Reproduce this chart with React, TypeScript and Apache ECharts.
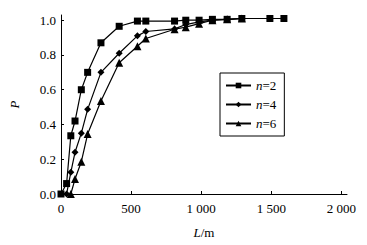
import React, { useEffect, useRef } from "react";
import * as echarts from "echarts";

const seriesNames = ["n=2", "n=4", "n=6"];
const symbols = ["rect", "diamond", "triangle"];

const n2L = [0, 40, 70, 100, 145, 190, 285, 415, 545, 605, 810, 890, 985, 1080, 1185, 1290, 1490, 1590];
const n2P = [0, 0.06, 0.335, 0.42, 0.6, 0.7, 0.87, 0.965, 0.995, 0.995, 0.995, 1.0, 1.0, 1.005, 1.005, 1.01, 1.01, 1.01];

const n4L = [40, 70, 100, 145, 190, 285, 415, 545, 605, 810, 890, 985, 1080, 1185, 1290];
const n4P = [0, 0.125, 0.24, 0.35, 0.487, 0.7, 0.81, 0.91, 0.935, 0.95, 0.975, 0.99, 1.0, 1.005, 1.01];

const n6L = [70, 100, 145, 190, 285, 415, 545, 605, 810, 890, 985, 1080, 1185, 1290];
const n6P = [0, 0.086, 0.186, 0.345, 0.535, 0.755, 0.85, 0.895, 0.948, 0.96, 0.98, 1.0, 1.005, 1.01];

const xTicks = [0, 500, 1000, 1500, 2000];
const yTicks = [0, 0.2, 0.4, 0.6, 0.8, 1.0];

const FONT = "Liberation Serif";
const FS = 13;

export default function App() {
  const ref = useRef<HTMLDivElement>(null);
  useEffect(() => {
    const chart = echarts.init(ref.current!, null, { renderer: "svg" });
    const pairs = [
      [n2L, n2P],
      [n4L, n4P],
      [n6L, n6P],
    ];
    const sizes = [7, 7, 8];
    chart.setOption({
      animation: false,
      backgroundColor: "#fff",
      textStyle: { fontFamily: FONT, color: "#000" },
      grid: { left: 57, right: 20, top: 15, bottom: 51 },
      legend: {
        orient: "vertical",
        left: 220,
        top: 73,
        borderColor: "#000",
        borderWidth: 1,
        padding: [6, 8, 6, 5],
        itemGap: 6,
        itemWidth: 25,
        itemHeight: 7,
        data: seriesNames,
        formatter: (name: string) => "{i|n}{t|" + name.slice(1) + "}",
        textStyle: {
          fontFamily: FONT,
          fontSize: FS,
          color: "#000",
          rich: {
            i: { fontFamily: FONT, fontSize: FS, fontStyle: "italic", color: "#000" },
            t: { fontFamily: FONT, fontSize: FS, color: "#000" },
          },
        },
      },
      xAxis: {
        type: "value",
        min: 0,
        max: 2040,
        interval: 500,
        name: "{i|L}{t|/m}",
        nameLocation: "middle",
        nameGap: 32,
        nameTextStyle: {
          rich: {
            i: { fontFamily: FONT, fontSize: FS, fontStyle: "italic", color: "#000" },
            t: { fontFamily: FONT, fontSize: FS, color: "#000" },
          },
        },
        splitLine: { show: false },
        axisLine: { lineStyle: { color: "#000", width: 1 } },
        axisTick: { inside: true, length: 3, lineStyle: { color: "#000" }, customValues: xTicks },
        axisLabel: {
          customValues: xTicks,
          margin: 8,
          fontFamily: FONT,
          fontSize: FS,
          color: "#000",
          formatter: (v: number) => (v >= 1000 ? Math.floor(v / 1000) + " " + String(v % 1000).padStart(3, "0") : String(v)),
        },
      },
      yAxis: {
        type: "value",
        min: 0,
        max: 1.03,
        interval: 0.2,
        name: "P",
        nameLocation: "middle",
        nameGap: 40,
        nameTextStyle: { fontFamily: FONT, fontSize: FS, fontStyle: "italic", color: "#000" },
        splitLine: { show: false },
        axisLine: { show: true, lineStyle: { color: "#000", width: 1 } },
        axisTick: { show: true, inside: true, length: 3, lineStyle: { color: "#000" }, customValues: yTicks },
        axisLabel: {
          customValues: yTicks,
          margin: 5,
          fontFamily: FONT,
          fontSize: FS,
          color: "#000",
          formatter: (v: number) => v.toFixed(1),
        },
      },
      series: seriesNames.map((name, i) => ({
        name,
        type: "line",
        clip: false,
        symbol: symbols[i],
        symbolSize: sizes[i],
        showAllSymbol: true,
        itemStyle: { color: "#000" },
        lineStyle: { color: "#000", width: 1.2 },
        data: pairs[i][0].map((l, k) => [l, pairs[i][1][k]]),
      })),
    });
    return () => chart.dispose();
  }, []);
  return <div ref={ref} style={{ width: 367, height: 245, position: "absolute", left: 0, top: 0 }} />;
}
